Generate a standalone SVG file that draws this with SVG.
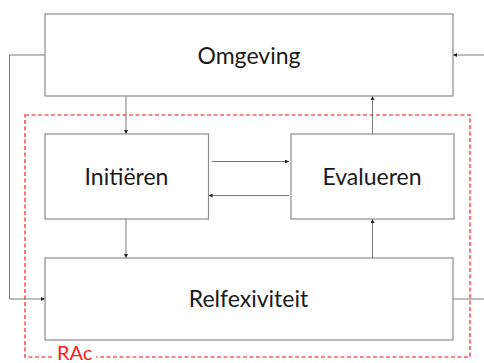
<svg xmlns="http://www.w3.org/2000/svg" width="484" height="363" viewBox="0 0 484 363">
  <defs>
    <style>
      .box { fill: #ffffff; stroke: #8c8c8c; stroke-width: 1.2; }
      .lbl { font-family: Lato, "Open Sans", "Liberation Sans", sans-serif; font-size: 23px; fill: #1a1a1a; text-anchor: middle; }
      .wire { fill: none; stroke: #7a7a7a; stroke-width: 1; }
      .rac { fill: none; stroke: #ff5c5c; stroke-width: 1.7; stroke-dasharray: 4 2.5; }
      .rac-lbl { font-family: Lato, "Open Sans", "Liberation Sans", sans-serif; font-size: 20px; fill: #ff1a1a; }
    </style>
    <marker id="arr" viewBox="0 0 6 6" refX="6" refY="3" markerWidth="4" markerHeight="4" orient="auto" markerUnits="userSpaceOnUse">
      <path d="M0,0 L6,3 L0,6 Z" fill="#222222"/>
    </marker>
  </defs>
  <rect width="484" height="363" fill="#ffffff"/>

  <!-- RAc boundary with its label sitting on the bottom edge -->
  <g id="rac-boundary">
    <rect class="rac" x="25" y="115" width="445" height="242"/>
    <rect x="54" y="348" width="42" height="15" fill="#ffffff"/>
    <text class="rac-lbl" x="57" y="360">RAc</text>
  </g>

  <!-- connectors -->
  <g id="connectors">
    <polyline class="wire" points="45,55 9.5,55 9.5,299 45,299" marker-end="url(#arr)"/>
    <line class="wire" x1="484" y1="55" x2="453" y2="55" marker-end="url(#arr)"/>
    <line class="wire" x1="453" y1="299" x2="484" y2="299"/>
    <line class="wire" x1="126" y1="96" x2="126" y2="134" marker-end="url(#arr)"/>
    <line class="wire" x1="372.5" y1="134" x2="372.5" y2="96" marker-end="url(#arr)"/>
    <line class="wire" x1="211.5" y1="161.5" x2="289" y2="161.5" marker-end="url(#arr)"/>
    <line class="wire" x1="289" y1="195.5" x2="208.5" y2="195.5" marker-end="url(#arr)"/>
    <line class="wire" x1="126" y1="219" x2="126" y2="258" marker-end="url(#arr)"/>
    <line class="wire" x1="372.5" y1="258" x2="372.5" y2="219" marker-end="url(#arr)"/>
  </g>

  <g id="omgeving">
    <rect class="box" x="45" y="14" width="408" height="82"/>
    <text class="lbl" x="249" y="64">Omgeving</text>
  </g>
  <g id="initieren">
    <rect class="box" x="45" y="134" width="163.5" height="85"/>
    <text class="lbl" x="126.5" y="185">Initiëren</text>
  </g>
  <g id="evalueren">
    <rect class="box" x="291" y="134" width="163" height="85"/>
    <text class="lbl" x="372" y="185">Evalueren</text>
  </g>
  <g id="relfexiviteit">
    <rect class="box" x="45" y="258" width="408" height="82"/>
    <text class="lbl" x="248.5" y="307">Relfexiviteit</text>
  </g>
</svg>
